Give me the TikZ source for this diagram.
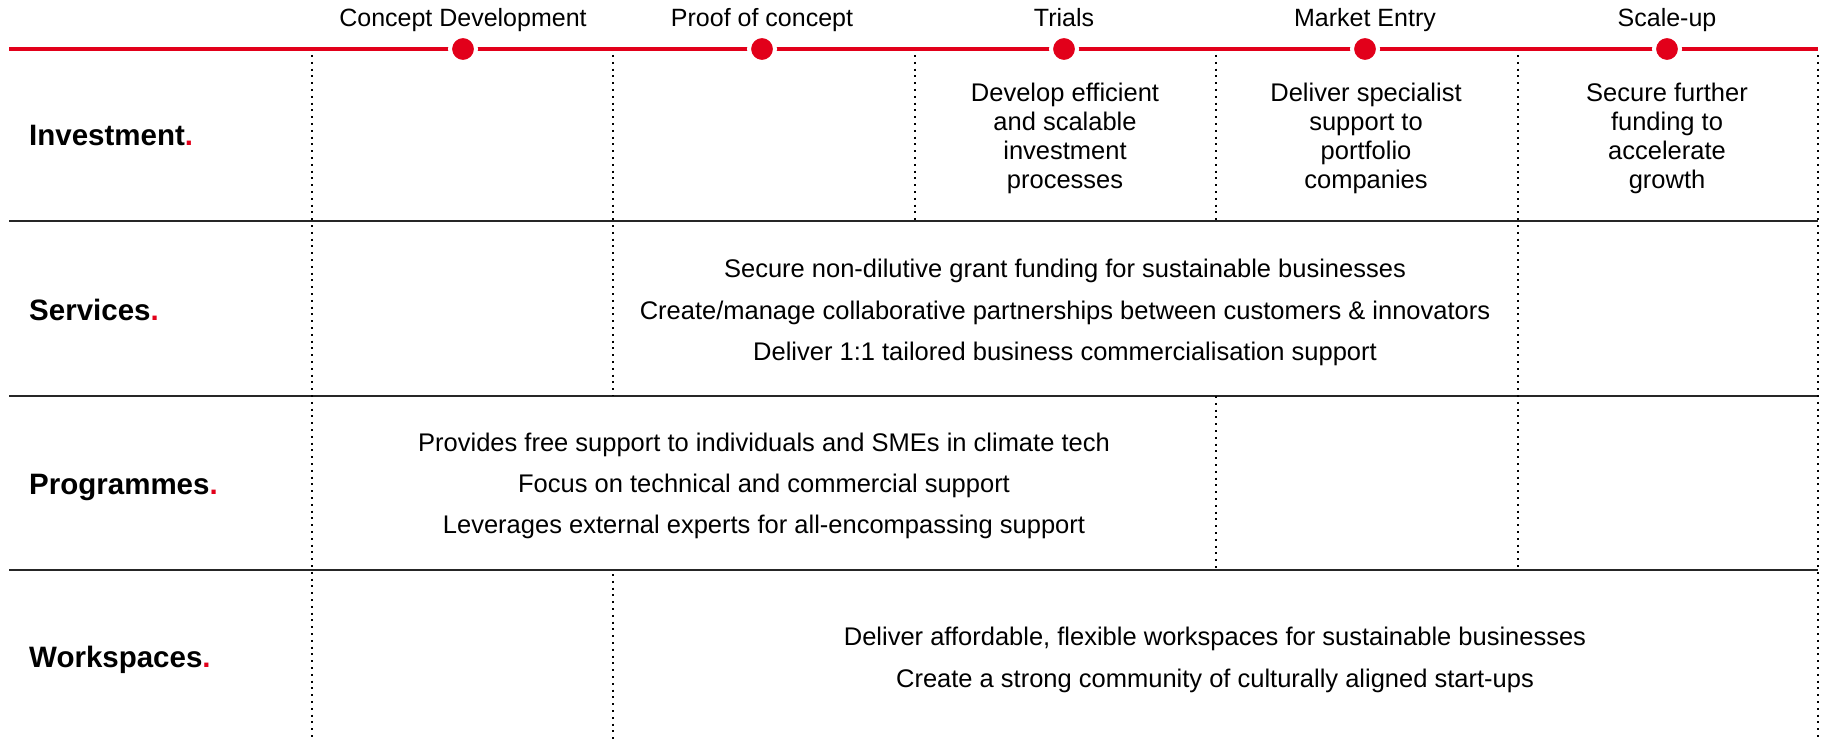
\documentclass[tikz,border=0pt]{standalone}
\usepackage{fontspec}
\setmainfont{Liberation Sans}
\usepackage{xcolor}
\usepackage{tikz}
\usetikzlibrary{positioning}
\definecolor{brandred}{RGB}{226,0,26}
\newcommand{\stagefont}{\fontsize{25}{30}\selectfont}
\newcommand{\labelfont}{\fontsize{29.5}{34}\selectfont\bfseries}
\newcommand{\cellfont}{\fontsize{25.5}{41.3}\selectfont}
\newcommand{\tightfont}{\fontsize{25.5}{29}\selectfont}
\newcommand{\redstop}{{\color{brandred}.}}
\tikzstyle{stage} = [font=\stagefont, inner sep=0pt, text height=0.75em, text depth=0.22em]
\tikzstyle{milestone} = [circle, fill=brandred, draw=white, line width=4pt, minimum size=26pt, inner sep=0pt]
\tikzstyle{timeline} = [brandred, line width=4pt]
\tikzstyle{rowline} = [black!85, line width=2.3pt]
\tikzstyle{colline} = [black, line width=2pt, dash pattern=on 2pt off 4.8pt]
\tikzstyle{rowlabel} = [font=\labelfont, anchor=base west, inner sep=0pt]
\tikzstyle{cell} = [font=\cellfont, align=center, inner sep=0pt]
\tikzstyle{invcell} = [font=\tightfont, align=center, inner sep=0pt]

\begin{document}
\begin{tikzpicture}[x=1pt, y=-1pt]
    \useasboundingbox (0,0) rectangle (1825,741);

    \draw [timeline] (9,49) -- (1818,49);
    \foreach \y in {221,396,570}
        \draw [rowline] (9,\y) -- (1818,\y);
    \foreach \x/\ya/\yb in {312/55/741, 613/55/396, 613/574/741, 915/55/221, 1216/55/221, 1216/396/570, 1518/55/570, 1818/55/741}
        \draw [colline] (\x,\ya) -- (\x,\yb);

    \node (concept_dot) [milestone] at (463,49) {};
    \node (proof_dot) [milestone] at (762,49) {};
    \node (trials_dot) [milestone] at (1064,49) {};
    \node (market_dot) [milestone] at (1365,49) {};
    \node (scaleup_dot) [milestone] at (1667,49) {};
    \node (concept) [stage, above=5pt of concept_dot] {Concept Development};
    \node (proof) [stage, above=5pt of proof_dot] {Proof of concept};
    \node (trials) [stage, above=5pt of trials_dot] {Trials};
    \node (market) [stage, above=5pt of market_dot] {Market Entry};
    \node (scaleup) [stage, above=5pt of scaleup_dot] {Scale-up};

    \node (investment) [rowlabel] at (29,146) {Investment\redstop};
    \node (services) [rowlabel] at (29,320) {Services\redstop};
    \node (programmes) [rowlabel] at (29,494) {Programmes\redstop};
    \node (workspaces) [rowlabel] at (29,667) {Workspaces\redstop};

    \node (inv_trials) [invcell] at (1065,138.5) {Develop efficient\\and scalable\\investment\\processes};
    \node (inv_market) [invcell] at (1366,138.5) {Deliver specialist\\support to\\portfolio\\companies};
    \node (inv_scaleup) [invcell] at (1667,138.5) {Secure further\\funding to\\accelerate\\growth};
    \node (serv_text) [cell] at (1065,312.5) {Secure non-dilutive grant funding for sustainable businesses\\Create/manage collaborative partnerships between customers \& innovators\\Deliver 1:1 tailored business commercialisation support};
    \node (prog_text) [cell] at (764,486) {Provides free support to individuals and SMEs in climate tech\\Focus on technical and commercial support\\Leverages external experts for all-encompassing support};
    \node (work_text) [cell] at (1215,660) {Deliver affordable, flexible workspaces for sustainable businesses\\Create a strong community of culturally aligned start-ups};
\end{tikzpicture}
\end{document}
